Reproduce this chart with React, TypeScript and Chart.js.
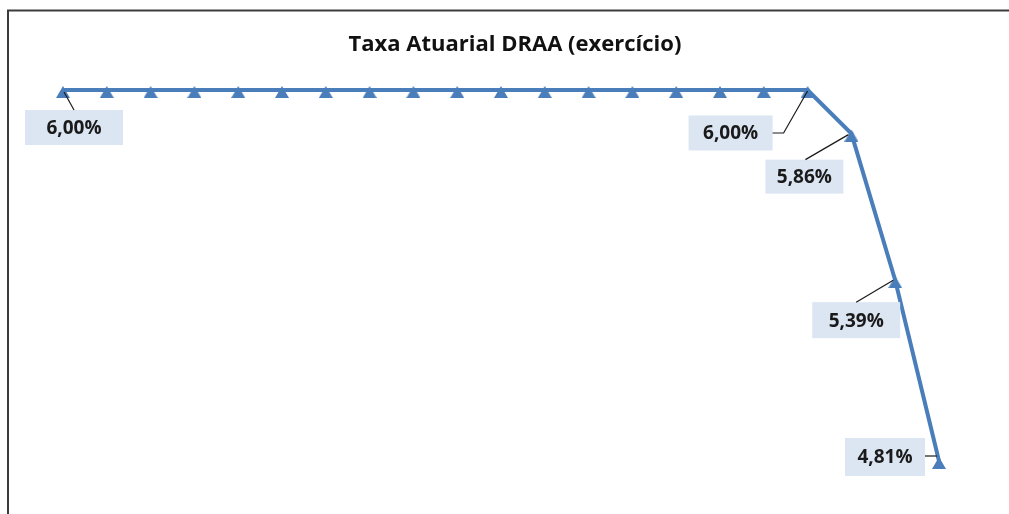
import React, { useEffect, useRef } from "react";
import { Chart, registerables } from "chart.js";

Chart.register(...registerables);

const categories: string[] = [
  "1", "2", "3", "4", "5", "6", "7", "8", "9", "10", "11",
  "12", "13", "14", "15", "16", "17", "18", "19", "20", "21",
];
const taxaValues: number[] = [
  6.0, 6.0, 6.0, 6.0, 6.0, 6.0, 6.0, 6.0, 6.0, 6.0, 6.0,
  6.0, 6.0, 6.0, 6.0, 6.0, 6.0, 6.0, 5.86, 5.39, 4.81,
];
const chartTitle = "Taxa Atuarial DRAA (exercício)";
const labeledIndexes: number[] = [0, 17, 18, 19, 20];

// label box placement relative to its point (styling/layout only)
const labelPlacement: Record<number, { dx: number; dy: number; w: number; h: number; leader: number[][] }> = {
  0: { dx: 11, dy: 37.5, w: 98, h: 35, leader: [[1, 2], [11, 20]] },
  17: { dx: -77, dy: 43, w: 84, h: 35, leader: [[0, 1], [-24, 43], [-35, 43]] },
  18: { dx: -47, dy: 43, w: 78, h: 34, leader: [[-3, 1], [-46, 26]] },
  19: { dx: -39, dy: 40, w: 88, h: 36, leader: [[-2, 0], [-39, 22]] },
  20: { dx: -54, dy: -4, w: 80, h: 38, leader: [[-14, -5], [-2, -5]] },
};

const LINE_COLOR = "#4a7ebb";

const fmt = (v: number) => v.toFixed(2).replace(".", ",") + "%";

function makeTriangle(): HTMLCanvasElement {
  const c = document.createElement("canvas");
  c.width = 14;
  c.height = 16;
  const g = c.getContext("2d")!;
  g.fillStyle = LINE_COLOR;
  g.beginPath();
  g.moveTo(7, 4);
  g.lineTo(14, 16);
  g.lineTo(0, 16);
  g.closePath();
  g.fill();
  return c;
}

const decorPlugin = {
  id: "decor",
  beforeDraw(chart: any) {
    const ctx = chart.ctx;
    ctx.save();
    ctx.fillStyle = "#ffffff";
    ctx.fillRect(0, 0, chart.width, chart.height);
    ctx.strokeStyle = "#3c3c3c";
    ctx.lineWidth = 2;
    ctx.beginPath();
    ctx.moveTo(8, chart.height);
    ctx.lineTo(8, 10.5);
    ctx.lineTo(chart.width, 10.5);
    ctx.stroke();
    ctx.fillStyle = "#111111";
    ctx.font = "bold 22px 'Open Sans'";
    ctx.textAlign = "center";
    ctx.textBaseline = "middle";
    ctx.fillText(chartTitle, 515, 45);
    ctx.restore();
  },
  afterDatasetsDraw(chart: any) {
    const ctx = chart.ctx;
    const meta = chart.getDatasetMeta(0);
    ctx.save();
    labeledIndexes.forEach((i) => {
      const el = meta.data[i];
      const p = labelPlacement[i];
      if (!el || !p) return;
      const x = el.x;
      const y = el.y;
      const cx = x + p.dx;
      const cy = y + p.dy;
      ctx.fillStyle = "#dce6f2";
      ctx.fillRect(cx - p.w / 2, cy - p.h / 2, p.w, p.h);
      ctx.strokeStyle = "#1a1a1a";
      ctx.lineWidth = 1.2;
      ctx.beginPath();
      p.leader.forEach((pt, k) => {
        if (k === 0) ctx.moveTo(x + pt[0], y + pt[1]);
        else ctx.lineTo(x + pt[0], y + pt[1]);
      });
      ctx.stroke();
      ctx.fillStyle = "#1a1a1a";
      ctx.font = "bold 19px 'Open Sans'";
      ctx.textAlign = "center";
      ctx.textBaseline = "middle";
      ctx.fillText(fmt(taxaValues[i]), cx, cy + 1);
    });
    ctx.restore();
  },
};

export default function App() {
  const ref = useRef<HTMLCanvasElement | null>(null);
  useEffect(() => {
    if (!ref.current) return;
    const tri = makeTriangle();
    const chart = new Chart(ref.current, {
      type: "line",
      data: {
        labels: categories,
        datasets: [
          {
            data: taxaValues,
            borderColor: LINE_COLOR,
            backgroundColor: LINE_COLOR,
            borderWidth: 4,
            pointStyle: tri as any,
            pointRadius: 8,
            pointBorderWidth: 0,
            pointBackgroundColor: LINE_COLOR,
            tension: 0,
            clip: false as any,
          },
        ],
      },
      options: {
        responsive: false,
        animation: false,
        layout: { padding: { left: 63, right: 70, top: 58.8, bottom: 18.7 } },
        plugins: {
          legend: { display: false },
          title: { display: false },
          tooltip: { enabled: false },
        },
        scales: {
          x: { display: false, offset: false },
          y: { display: false, min: 4.7, max: 6.1 },
        },
      },
      plugins: [decorPlugin],
    });
    return () => chart.destroy();
  }, []);
  return (
    <div style={{ position: "fixed", left: 0, top: 0, width: 1009, height: 514 }}>
      <canvas ref={ref} width={1009} height={514} style={{ display: "block" }} />
    </div>
  );
}
